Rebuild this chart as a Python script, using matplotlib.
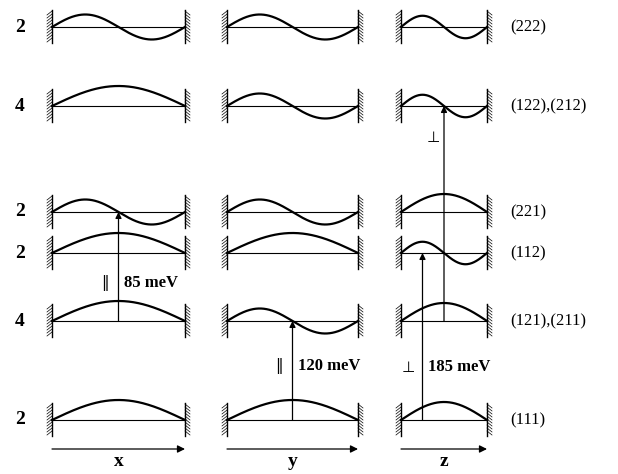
import numpy as np
import matplotlib.pyplot as plt

# quantum numbers (nx, ny, nz) for each level, bottom to top
levels = [(1, 1, 1), (1, 2, 1), (1, 1, 2), (2, 2, 1), (1, 2, 2), (2, 2, 2)]
degeneracy = [2, 4, 2, 2, 4, 2]
level_labels = ["(111)", "(121),(211)", "(112)", "(221)", "(122),(212)", "(222)"]
axis_names = ["x", "y", "z"]

# transitions: (from level, to level, direction column, polarisation, energy text)
transitions = [
    (1, 3, 0, "\u2016", "85 meV"),
    (0, 1, 1, "\u2016", "120 meV"),
    (0, 2, 2, "\u22a5", "185 meV"),
    (1, 4, 2, "\u22a5", ""),
]

# layout (pixel-like units)
level_y = [420, 321, 253, 212, 106, 27]
col_x = [(52, 185), (227, 358), (401, 487)]
amp = {1: 20, 2: 12.5}
arrow_frac = [0.5, 0.5, 0.25, 0.5]    # where along the box each arrow sits
label_y = [283, 366, 367, 137]

serif = ["Liberation Serif", "DejaVu Serif"]

fig = plt.figure(figsize=(6.18, 4.74), dpi=100)
ax = fig.add_axes([0, 0, 1, 1])
ax.set_xlim(0, 618)
ax.set_ylim(474, 0)
ax.axis("off")


def wall(x0, yb, side):
    ax.plot([x0, x0], [yb - 17, yb + 16], color="black", lw=1.0)
    for yy in np.arange(yb - 16, yb + 14, 3.0):
        if side < 0:
            ax.plot([x0 - 5, x0], [yy + 4, yy], color="black", lw=0.5)
        else:
            ax.plot([x0, x0 + 5], [yy, yy + 4], color="black", lw=0.5)


for i, lev in enumerate(levels):
    yb = level_y[i]
    for c, (x0, x1) in enumerate(col_x):
        n = lev[c]
        a = amp[n] * (0.9 if c == 2 else 1.0)
        t = np.linspace(0, 1, 200)
        ax.plot(x0 + t * (x1 - x0), yb - a * np.sin(n * np.pi * t),
                color="black", lw=1.6)
        ax.plot([x0, x1], [yb, yb], color="black", lw=0.8)
        wall(x0, yb, -1)
        wall(x1, yb, 1)
    ax.text(20, yb, str(degeneracy[i]), ha="center", va="center",
            family=serif, fontsize=14, fontweight="bold")
    ax.text(510, yb, level_labels[i], ha="left", va="center",
            family=serif, fontsize=12)

# transitions
for k, (lo, hi, c, pol, energy) in enumerate(transitions):
    x0, x1 = col_x[c]
    xa = x0 + arrow_frac[k] * (x1 - x0)
    ax.annotate("", xy=(xa, level_y[hi]), xytext=(xa, level_y[lo]),
                arrowprops=dict(arrowstyle="-|>", color="black", lw=0.9,
                                mutation_scale=9, shrinkA=0, shrinkB=0))
    ax.text(xa - (14 if energy else 11), label_y[k], pol, ha="center",
            va="center", family=["DejaVu Sans"], fontsize=11)
    if energy:
        ax.text(xa + 6, label_y[k], energy, ha="left", va="center",
                family=serif, fontsize=12, fontweight="bold")

# direction arrows
for c, (x0, x1) in enumerate(col_x):
    ax.annotate("", xy=(x1, 449), xytext=(x0, 449),
                arrowprops=dict(arrowstyle="-|>", color="black", lw=0.9,
                                mutation_scale=11, shrinkA=0, shrinkB=0))
    ax.text((x0 + x1) / 2, 461, axis_names[c], ha="center", va="center",
            family=serif, fontsize=14, fontweight="bold")

fig.savefig("out.png", dpi=100)
